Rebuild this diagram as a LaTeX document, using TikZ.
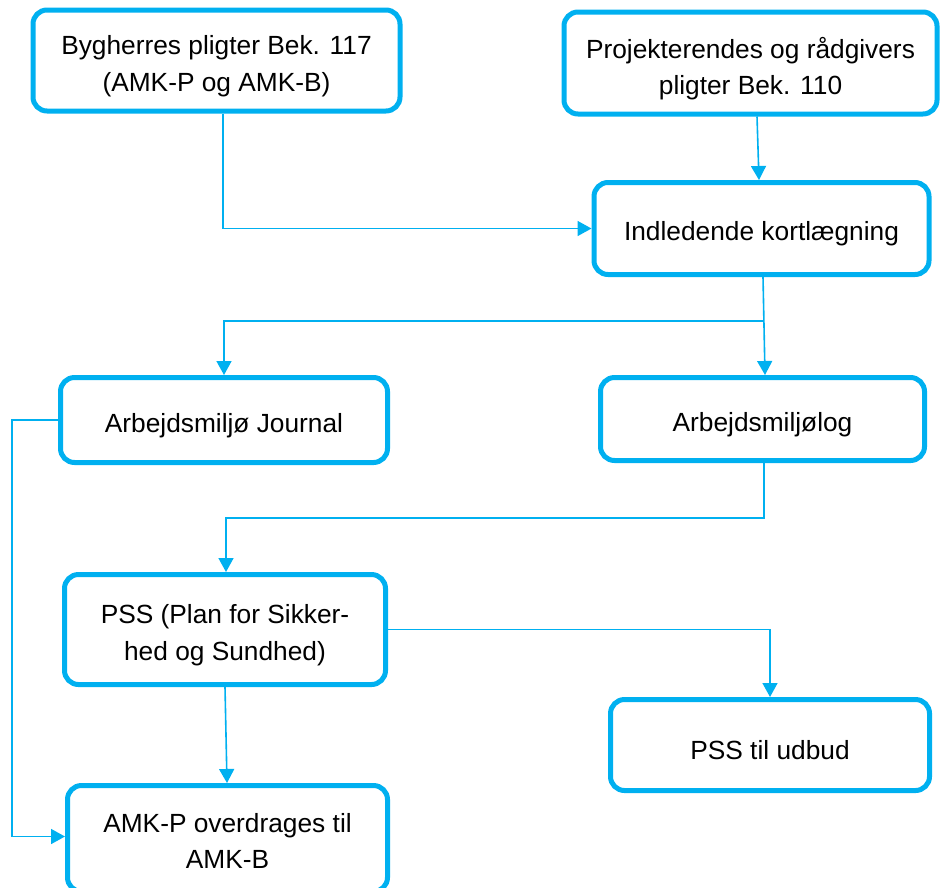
\documentclass[tikz,border=0pt]{standalone}
\usepackage{fontspec}
\setmainfont{Liberation Sans}
\usetikzlibrary{arrows.meta,calc}
\definecolor{cblue}{HTML}{00B0F0}
\tikzset{
  box/.style={draw=cblue, line width=5pt, rounded corners=14pt, fill=white,
    inner sep=0pt},
  txt/.style={align=center, inner sep=0pt, text=black, yshift=-5.5pt,
    font=\fontsize{26.3}{36.5}\selectfont},
  conn/.style={draw=cblue, line width=1.6pt},
  arr/.style={conn, -{Triangle[width=15pt,length=14pt]}}
}
\begin{document}
\begin{tikzpicture}[x=1pt,y=-1pt]
\useasboundingbox (0,0) rectangle (941,887);
\node[box, minimum width=367pt, minimum height=101pt] (A) at (216.5,60.5) {};
\node[box, minimum width=373pt, minimum height=102pt] (B) at (750.5,63) {};
\node[box, minimum width=335pt, minimum height=92pt] (C) at (761.5,228.5) {};
\node[box, minimum width=327pt, minimum height=85pt] (D) at (224,420) {};
\node[box, minimum width=324pt, minimum height=83pt] (E) at (762.5,419) {};
\node[box, minimum width=321pt, minimum height=110pt] (F) at (225,629.5) {};
\node[box, minimum width=320pt, minimum height=106pt] (G) at (227.5,838.5) {};
\node[box, minimum width=319pt, minimum height=91pt] (H) at (770,745) {};

\node[txt] (At) at (A.center) {Bygherres pligter Bek. 117\\(AMK-P og AMK-B)};
\node[txt] (Bt) at (B.center) {Projekterendes og rådgivers\\pligter Bek. 110};
\node[txt] (Ct) at (C.center) {Indledende kortlægning};
\node[txt] (Dt) at (D.center) {Arbejdsmiljø Journal};
\node[txt] (Et) at (E.center) {Arbejdsmiljølog};
\node[txt] (Ft) at (F.center) {PSS (Plan for Sikker-\\hed og Sundhed)};
\node[txt] (Gt) at ([yshift=3pt]G.center) {AMK-P overdrages til\\AMK-B};
\node[txt] (Ht) at (H.center) {PSS til udbud};

\coordinate (b1) at (763.9,321);
\coordinate (j2) at (226,518);
\coordinate (j3) at (12,836.5);

\draw[arr] ([xshift=6.5pt]A.south) |- (C.west);
\draw[arr] ([xshift=6.5pt]B.south) -- ([xshift=-2.5pt]C.north);
\draw[arr] ([xshift=1.5pt]C.south) -- ([xshift=2.5pt]E.north);
\draw[arr] (b1) -| (D.north);
\draw[arr] ([xshift=1.5pt]E.south) |- (j2) -- ([xshift=1pt]F.north);
\draw[arr] (D.west) -| (j3) -- (j3 -| G.west);
\draw[arr] (F.south) -- ([xshift=-0.5pt]G.north);
\draw[arr] (F.east) -| (H.north);
\end{tikzpicture}
\end{document}
